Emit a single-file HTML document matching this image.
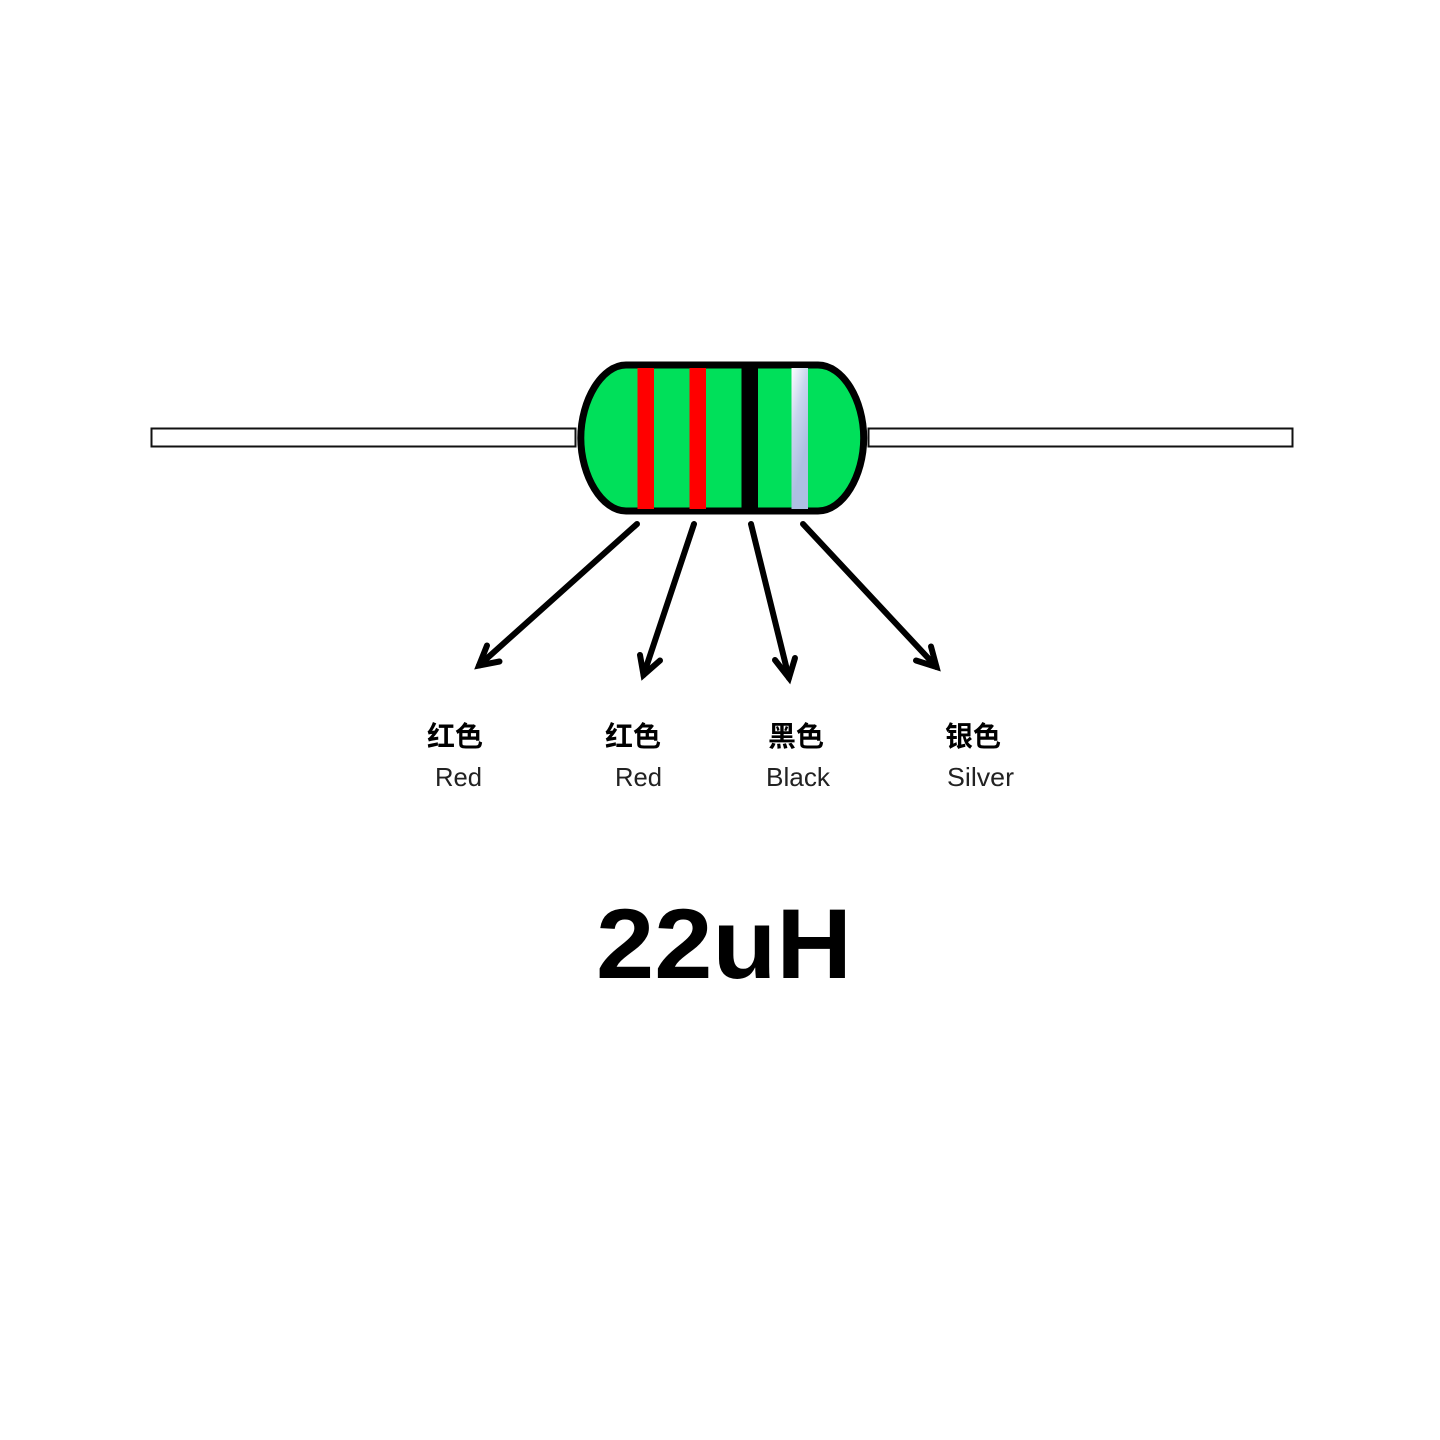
<!DOCTYPE html>
<html lang="zh">
<head>
<meta charset="utf-8">
<title>22uH</title>
<style>
html,body{margin:0;padding:0;background:#fff;width:1440px;height:1440px;overflow:hidden}
svg{display:block}
.cn{font-family:"Liberation Sans","Noto Sans CJK SC",sans-serif;font-size:28px;font-weight:700;fill:#000}
.en{font-family:"Liberation Sans","Noto Sans CJK SC",sans-serif;font-size:26px;fill:#222}
.big{font-family:"Liberation Sans","Noto Sans CJK SC",sans-serif;font-size:99px;font-weight:700;fill:#000}
</style>
</head>
<body>
<svg width="1440" height="1440" viewBox="0 0 1440 1440" xmlns="http://www.w3.org/2000/svg">
<defs>
<linearGradient id="silver" gradientUnits="userSpaceOnUse" x1="791" y1="368" x2="823.500" y2="376">
<stop offset="0" stop-color="#ffffff"/>
<stop offset="0.5" stop-color="#c8d5ee"/>
<stop offset="1" stop-color="#aebfe2"/>
</linearGradient>
</defs>

<rect x="151.500" y="428.500" width="424" height="18" fill="#fff" stroke="#111" stroke-width="2"/>
<rect x="868.500" y="428.500" width="424" height="18" fill="#fff" stroke="#111" stroke-width="2"/>

<path d="M626 365H818C843 365 863.700 400 863.700 438C863.700 476 843 511 818 511H626C602 511 580.800 476 580.800 438C580.800 400 602 365 626 365Z" fill="#00e05a" stroke="#000" stroke-width="7"/>

<rect x="637.500" y="368" width="16.500" height="141" fill="#ff0000"/>
<rect x="689.500" y="368" width="16.500" height="141" fill="#ff0000"/>
<rect x="741.500" y="366" width="16.500" height="145" fill="#000"/>
<rect x="791.500" y="368" width="16.500" height="141" fill="url(#silver)"/>

<g fill="none" stroke="#000" stroke-width="6" stroke-linecap="round" stroke-linejoin="miter">
<path d="M637 524L479 665.500"/>
<path d="M487 645.500L479 665.500L499.500 661.500"/>
<path d="M694 524L643.500 675"/>
<path d="M640 655L643.500 675L660 660.500"/>
<path d="M751 524L789 678"/>
<path d="M775 660L789 678L795 658"/>
<path d="M803 524L936.500 667"/>
<path d="M931 646.500L936.500 667L916 660.500"/>
</g>

<text class="cn" x="427" y="746">红色</text>
<text class="cn" x="605" y="746">红色</text>
<text class="cn" x="768" y="746">黑色</text>
<text class="cn" x="945" y="746">银色</text>

<text class="en" x="435" y="786" textLength="47" lengthAdjust="spacingAndGlyphs">Red</text>
<text class="en" x="615" y="786" textLength="47" lengthAdjust="spacingAndGlyphs">Red</text>
<text class="en" x="766" y="786" textLength="64" lengthAdjust="spacingAndGlyphs">Black</text>
<text class="en" x="947" y="786" textLength="67" lengthAdjust="spacingAndGlyphs">Silver</text>

<text class="big" x="596" y="978" textLength="256" lengthAdjust="spacingAndGlyphs">22uH</text>
</svg>
</body>
</html>
